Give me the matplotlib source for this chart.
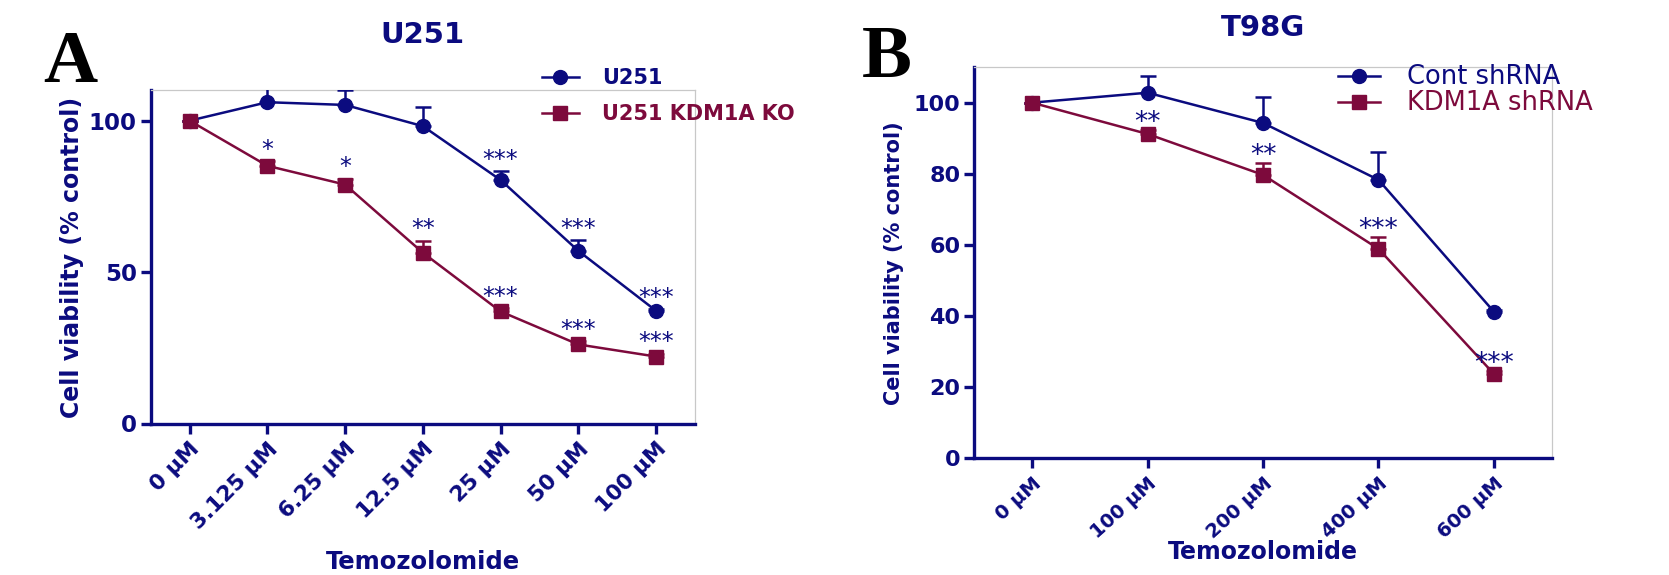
import numpy as np
import matplotlib
matplotlib.use("Agg")
import matplotlib.pyplot as plt
from matplotlib.lines import Line2D

# panel A : U251
a_doses = ['0 µM', '3.125 µM', '6.25 µM', '12.5 µM', '25 µM', '50 µM', '100 µM']
a_u251 = [100, 106.1, 105.2, 98.2, 80.4, 57.0, 37.2]
a_u251_err = [0, 6.0, 5.0, 6.4, 3.0, 3.5, 0.5]
a_ko = [100, 85.1, 78.9, 56.4, 37.0, 26.1, 22.1]
a_ko_err = [0, 1.5, 2.0, 4.0, 1.0, 1.0, 1.0]
a_u251_sig = ['', '', '', '', '***', '***', '***']
a_ko_sig = ['', '*', '*', '**', '***', '***', '***']

# panel B : T98G
b_doses = ['0 µM', '100 µM', '200 µM', '400 µM', '600 µM']
b_cont = [100, 102.8, 94.3, 78.3, 41.2]
b_cont_err = [0, 4.6, 7.3, 7.7, 0.5]
b_kd = [100, 91.2, 79.7, 58.9, 23.7]
b_kd_err = [0, 1.2, 3.4, 3.2, 0.8]
b_kd_sig = ['', '**', '**', '***', '***']

NAVY = '#0b0b7f'
MAROON = '#7d0a3c'
GRAY = '#c8c8c8'
FONT = 'DejaVu Sans'

W, H = 1669, 575
fig = plt.figure(figsize=(W / 100, H / 100), dpi=100)


def px_axes(l, r, t, b):
    return fig.add_axes([l / W, 1 - b / H, (r - l) / W, (b - t) / H])


def style_axes(ax, ysize, xsize, xrot):
    for s in ['left', 'bottom']:
        ax.spines[s].set_color(NAVY)
        ax.spines[s].set_linewidth(2.4)
    for s in ['top', 'right']:
        ax.spines[s].set_color(GRAY)
        ax.spines[s].set_linewidth(0.9)
    ax.tick_params(axis='both', colors=NAVY, width=2.4, labelcolor=NAVY)
    ax.tick_params(axis='y', length=7, pad=3)
    ax.tick_params(axis='x', length=7, pad=4)
    for lbl in ax.get_yticklabels():
        lbl.set_fontfamily(FONT)
        lbl.set_fontweight('bold')
        lbl.set_fontsize(ysize)
    for lbl in ax.get_xticklabels():
        lbl.set_fontfamily(FONT)
        lbl.set_fontweight('bold')
        lbl.set_fontsize(xsize)
        lbl.set_rotation(xrot)
        lbl.set_ha('right')
        lbl.set_rotation_mode('anchor')


def draw_series(ax, x, y, err, color, marker, ms):
    ax.errorbar(x, y, yerr=[np.zeros(len(err)), err], color=color, marker=marker,
                ms=ms, lw=1.8, elinewidth=1.8, capsize=6, capthick=1.8,
                clip_on=True, zorder=3)


def add_stars(ax, x, y, err, sig, dy, size):
    for xi, yi, ei, s in zip(x, y, err, sig):
        if s:
            ax.annotate(s, xy=(xi, yi + ei), xytext=(0, dy), textcoords='offset points',
                        ha='center', va='baseline', color=NAVY, fontsize=size,
                        family=FONT, zorder=4)


# ---------------- panel A
axA = px_axes(150.7, 695, 90.4, 423.5)
xa = np.arange(len(a_doses))
draw_series(axA, xa, a_u251, a_u251_err, NAVY, 'o', 10)
draw_series(axA, xa, a_ko, a_ko_err, MAROON, 's', 10)
add_stars(axA, xa, a_u251, a_u251_err, a_u251_sig, 3, 17)
add_stars(axA, xa, a_ko, a_ko_err, a_ko_sig, 3, 17)
axA.set_xlim(-0.5, len(a_doses) - 0.5)
axA.set_ylim(0, 110)
axA.set_yticks([0, 50, 100])
axA.set_xticks(xa)
axA.set_xticklabels(a_doses)
style_axes(axA, 16.5, 15.5, 45)
axA.set_ylabel('Cell viability (% control)', family=FONT, fontweight='bold',
               fontsize=17, color=NAVY)
axA.yaxis.set_label_coords(-0.122, 0.5)
axA.set_xlabel('Temozolomide', family=FONT, fontweight='bold', fontsize=17.5, color=NAVY)
axA.xaxis.set_label_coords(0.5, -0.38)
fig.text(422 / W, 1 - 35 / H, 'U251', ha='center', va='center', family=FONT,
         fontweight='bold', fontsize=21, color=NAVY)
fig.text(43 / W, 1 - 82 / H, 'A', ha='left', va='baseline', family='Liberation Serif',
         fontweight='bold', fontsize=54, color='black')
hA = [Line2D([], [], color=NAVY, marker='o', ms=10, lw=1.8),
      Line2D([], [], color=MAROON, marker='s', ms=10, lw=1.8)]
fig.legend(hA, ['U251', 'U251 KDM1A KO'], loc='center left',
           bbox_to_anchor=(541.7 / W, 1 - 96.3 / H), frameon=False, borderpad=0,
           borderaxespad=0, handlelength=1.8, handletextpad=1.1, labelspacing=0.78,
           labelcolor=[NAVY, MAROON],
           prop={'family': FONT, 'weight': 'bold', 'size': 15})

# ---------------- panel B
axB = px_axes(974.3, 1551.7, 67.1, 458.3)
xb = np.arange(len(b_doses))
draw_series(axB, xb, b_cont, b_cont_err, NAVY, 'o', 10)
draw_series(axB, xb, b_kd, b_kd_err, MAROON, 's', 10)
add_stars(axB, xb, b_kd, b_kd_err, b_kd_sig, 0, 19)
axB.set_xlim(-0.5, len(b_doses) - 0.5)
axB.set_ylim(0, 110)
axB.set_yticks([0, 20, 40, 60, 80, 100])
axB.set_xticks(xb)
axB.set_xticklabels(b_doses)
style_axes(axB, 16, 14, 42)
axB.set_ylabel('Cell viability (% control)', family=FONT, fontweight='bold',
               fontsize=15, color=NAVY)
axB.yaxis.set_label_coords(-0.122, 0.5)
axB.set_xlabel('Temozolomide', family=FONT, fontweight='bold', fontsize=17, color=NAVY)
axB.xaxis.set_label_coords(0.5, -0.21)
fig.text(1263 / W, 1 - 28 / H, 'T98G', ha='center', va='center', family=FONT,
         fontweight='bold', fontsize=21, color=NAVY)
fig.text(862 / W, 1 - 77 / H, 'B', ha='left', va='baseline', family='Liberation Serif',
         fontweight='bold', fontsize=54, color='black')
hB = [Line2D([], [], color=NAVY, marker='o', ms=10, lw=1.8),
      Line2D([], [], color=MAROON, marker='s', ms=10, lw=1.8)]
fig.legend(hB, ['Cont shRNA', 'KDM1A shRNA'], loc='center left',
           bbox_to_anchor=(1338 / W, 1 - 90.5 / H), frameon=False, borderpad=0,
           borderaxespad=0, handlelength=1.63, handletextpad=1.05, labelspacing=0.0,
           labelcolor=[NAVY, MAROON],
           prop={'family': FONT, 'size': 18.5})

fig.savefig('out.png', dpi=100)
